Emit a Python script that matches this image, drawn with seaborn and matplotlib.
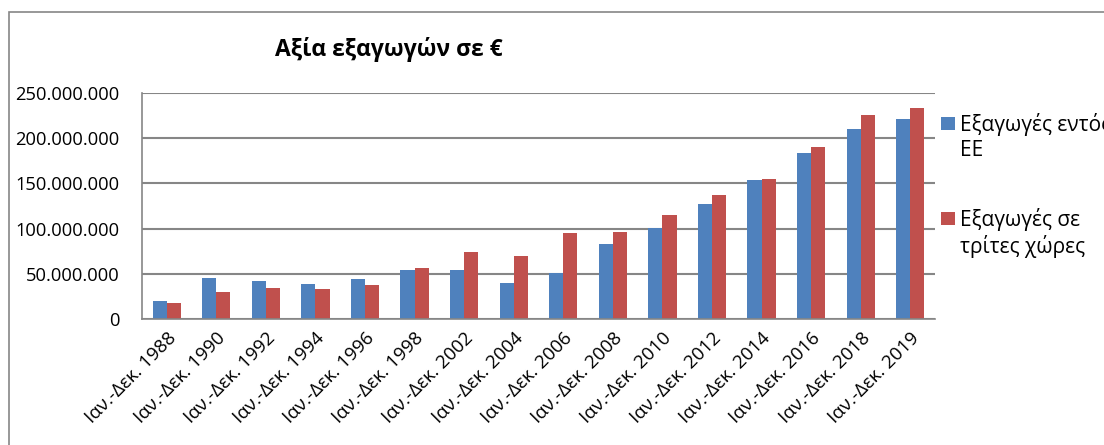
import matplotlib
matplotlib.use("Agg")
import matplotlib.pyplot as plt
import matplotlib.patches as mpatches
import seaborn as sns
import pandas as pd

periods = ["Ιαν.-Δεκ. 1988", "Ιαν.-Δεκ. 1990", "Ιαν.-Δεκ. 1992", "Ιαν.-Δεκ. 1994",
           "Ιαν.-Δεκ. 1996", "Ιαν.-Δεκ. 1998", "Ιαν.-Δεκ. 2002", "Ιαν.-Δεκ. 2004",
           "Ιαν.-Δεκ. 2006", "Ιαν.-Δεκ. 2008", "Ιαν.-Δεκ. 2010", "Ιαν.-Δεκ. 2012",
           "Ιαν.-Δεκ. 2014", "Ιαν.-Δεκ. 2016", "Ιαν.-Δεκ. 2018", "Ιαν.-Δεκ. 2019"]
exports_eu = [19.8e6, 45.6e6, 41.9e6, 38.2e6, 43.8e6, 53.7e6, 54.4e6, 40.3e6,
              51.4e6, 82.9e6, 101.0e6, 127.0e6, 153.7e6, 183.7e6, 210.0e6, 221.4e6]
exports_third = [17.3e6, 29.8e6, 33.8e6, 33.5e6, 37.9e6, 56.7e6, 74.4e6, 70.0e6,
                 94.8e6, 95.9e6, 115.5e6, 136.7e6, 154.8e6, 190.7e6, 225.9e6, 232.9e6]
series_names = ["Εξαγωγές εντός ΕΕ", "Εξαγωγές σε τρίτες χώρες"]
legend_labels = ["Εξαγωγές εντός\nΕΕ", "Εξαγωγές σε\nτρίτες χώρες"]
yticks = [0, 50e6, 100e6, 150e6, 200e6, 250e6]
title = "Αξία εξαγωγών σε €"
colors = ["#4F81BD", "#C0504D"]

df = pd.DataFrame({
    "period": periods * 2,
    "value": exports_eu + exports_third,
    "series": [series_names[0]] * len(periods) + [series_names[1]] * len(periods),
})

sns.set_theme(style="white")
plt.rcParams["font.family"] = ["Open Sans", "DejaVu Sans"]

fig = plt.figure(figsize=(11.04, 4.45), dpi=100)
ax = fig.add_axes([142 / 1104, 1 - 319 / 445, (935 - 142) / 1104, (319 - 93) / 445])

sns.barplot(data=df, x="period", y="value", hue="series", palette=colors,
            width=0.57, gap=0, ax=ax, legend=False, saturation=1, linewidth=0)

ax.set_ylim(0, 250e6)
ax.set_xlim(-0.5, len(periods) - 0.5)
ax.set_yticks(yticks)
ax.set_yticklabels([f"{int(v):,}".replace(",", ".") for v in yticks])
ax.set_xlabel("")
ax.set_ylabel("")
ax.yaxis.grid(True, color="#868686", linewidth=1.5)
ax.set_axisbelow(True)
for s in ["top", "right"]:
    ax.spines[s].set_visible(False)
for s in ["left", "bottom"]:
    ax.spines[s].set_color("#868686")
    ax.spines[s].set_linewidth(1.2)
ax.tick_params(axis="y", length=0, pad=16, labelsize=13.2, labelcolor="black")
ax.tick_params(axis="x", length=0, pad=7, labelsize=13.5, labelcolor="black")
for lbl in ax.get_xticklabels():
    lbl.set_rotation(45)
    lbl.set_ha("right")
    lbl.set_va("top")
    lbl.set_rotation_mode("anchor")

fig.text(389 / 1104, 1 - 50 / 445, title, ha="center", va="center",
         fontsize=16.5, fontweight="bold", color="black")

# legend
leg_y = [116.7, 211.7]
for c, lab, y in zip(colors, legend_labels, leg_y):
    fig.patches.append(mpatches.Rectangle((941 / 1104, 1 - (y + 13) / 445), 14 / 1104, 13 / 445,
                                          transform=fig.transFigure, facecolor=c, edgecolor="none"))
    fig.text(960 / 1104, 1 - (y - 4) / 445, lab, ha="left", va="top", fontsize=15,
             linespacing=1.25, color="black")

# outer frame
fig.patches.append(mpatches.Rectangle((9 / 1104, -0.1), 1.2, 1 - 12 / 445 + 0.1,
                                      transform=fig.transFigure, facecolor="none",
                                      edgecolor="#868686", linewidth=1.2))

fig.savefig("out.png", dpi=100)
